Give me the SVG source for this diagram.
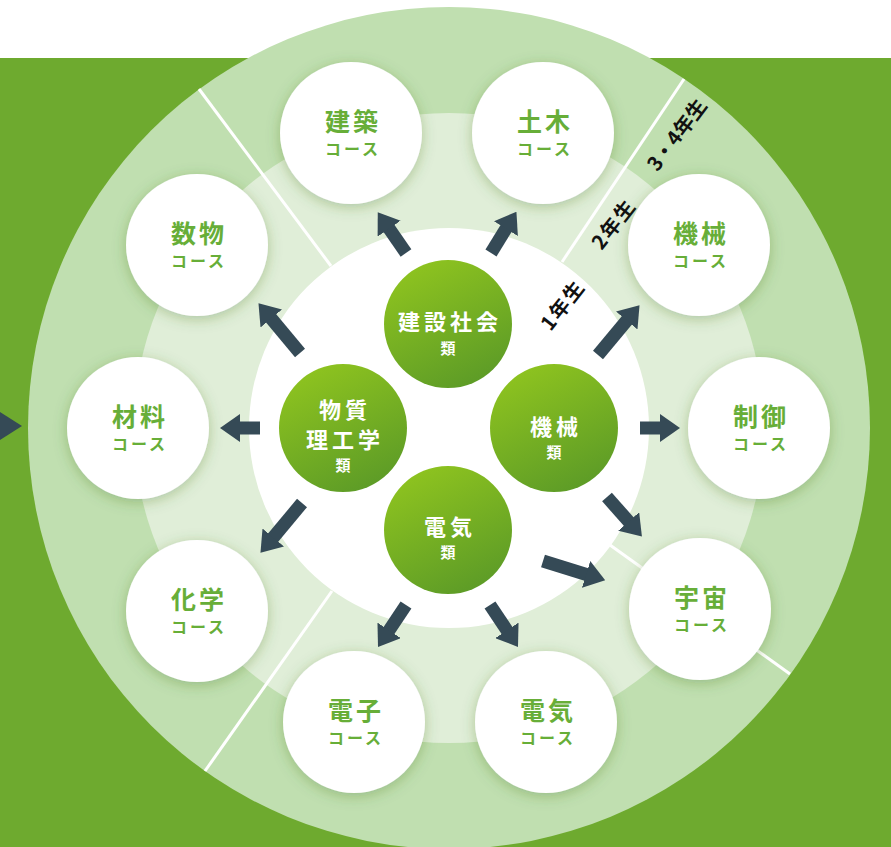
<svg xmlns="http://www.w3.org/2000/svg" width="891" height="847" viewBox="0 0 891 847">
<defs>
<style>
.ct{font-family:"Noto Sans CJK JP","Noto Sans",sans-serif;font-weight:700;fill:#67ae38;text-anchor:middle}
.t1{font-size:25px;letter-spacing:3px}
.t2{font-size:16px;letter-spacing:3px}
.wt{font-family:"Noto Sans CJK JP","Noto Sans",sans-serif;font-weight:700;fill:#ffffff;text-anchor:middle}
.w1{font-size:22px;letter-spacing:4px}
.w2{font-size:15px}
.yr{font-family:"Noto Sans CJK JP","Noto Sans",sans-serif;font-weight:700;fill:#111;font-size:20px;letter-spacing:2px;text-anchor:middle}
.arr{stroke:#354a56;stroke-width:13;fill:none;marker-end:url(#ah)}
.div{stroke:#ffffff;stroke-width:3}
.course{fill:#ffffff;filter:url(#sh)}
.cat{fill:url(#gg)}
</style>
<marker id="ah" viewBox="0 0 20 28" refX="2" refY="14" markerWidth="20" markerHeight="28" markerUnits="userSpaceOnUse" orient="auto">
<path d="M0,0 L20,14 L0,28 Z" fill="#354a56"/>
</marker>
<linearGradient id="gg" x1="0.25" y1="0" x2="0.75" y2="1">
<stop offset="0" stop-color="#8fc41f"/>
<stop offset="1" stop-color="#5b9a27"/>
</linearGradient>
<filter id="sh" x="-30%" y="-30%" width="160%" height="160%">
<feDropShadow dx="0" dy="3" stdDeviation="7" flood-color="#3f6e22" flood-opacity="0.32"/>
</filter>
</defs>
<rect x="0" y="0" width="891" height="847" fill="#ffffff"/>
<rect x="0" y="58" width="891" height="789" fill="#6eaa2f"/>
<polygon points="0,412 22,426 0,440" fill="#354a56"/>
<g id="rings">
<circle cx="449" cy="428" r="421" fill="#c0dfb0"/>
<circle cx="449" cy="428" r="315" fill="#e0eed8"/>
<circle cx="449" cy="428" r="200" fill="#ffffff"/>
</g>
<g id="dividers">
<line class="div" x1="331" y1="266" x2="199" y2="89"/>
<line class="div" x1="562" y1="262" x2="684" y2="79"/>
<line class="div" x1="332" y1="591" x2="205" y2="771"/>
<line class="div" x1="610" y1="545" x2="790" y2="674"/>
</g>
<g id="years">
<text class="yr" transform="translate(563,305) rotate(-52)" y="7">1年生</text>
<text class="yr" transform="translate(614,224) rotate(-52)" y="7">2年生</text>
<text class="yr" transform="translate(677,135) rotate(-53)" y="7" style="letter-spacing:0">3・4年生</text>
</g>
<g id="connectors">
<line class="arr" x1="406" y1="253" x2="388" y2="227"/>
<line class="arr" x1="491" y1="253" x2="507" y2="227"/>
<line class="arr" x1="300" y1="353" x2="270" y2="317"/>
<line class="arr" x1="260" y1="428" x2="238" y2="428"/>
<line class="arr" x1="302" y1="503" x2="272" y2="539"/>
<line class="arr" x1="598" y1="355" x2="628" y2="319"/>
<line class="arr" x1="640" y1="428" x2="662" y2="428"/>
<line class="arr" x1="607" y1="497" x2="630" y2="523"/>
<line class="arr" x1="543" y1="561" x2="588" y2="575"/>
<line class="arr" x1="406" y1="605" x2="388" y2="632"/>
<line class="arr" x1="490" y1="605" x2="508" y2="632"/>
</g>
<g id="cat-kensetsu">
<circle class="cat" cx="448" cy="324" r="64"/>
<text class="wt w1" x="450" y="330">建設社会</text>
<text class="wt w2" x="448" y="354">類</text>
</g>
<g id="cat-busshitsu">
<circle class="cat" cx="343" cy="428" r="64"/>
<text class="wt w1" x="345" y="418">物質</text>
<text class="wt w1" x="345" y="448">理工学</text>
<text class="wt w2" x="343" y="471">類</text>
</g>
<g id="cat-kikai">
<circle class="cat" cx="554" cy="428" r="64"/>
<text class="wt w1" x="556" y="435">機械</text>
<text class="wt w2" x="554" y="458">類</text>
</g>
<g id="cat-denki">
<circle class="cat" cx="448" cy="530" r="64"/>
<text class="wt w1" x="450" y="535">電気</text>
<text class="wt w2" x="448" y="558">類</text>
</g>
<g id="course-kenchiku">
<circle class="course" cx="351" cy="133" r="71"/>
<text class="ct t1" x="353" y="131">建築</text>
<text class="ct t2" x="353" y="155">コース</text>
</g>
<g id="course-doboku">
<circle class="course" cx="543" cy="133" r="71"/>
<text class="ct t1" x="545" y="131">土木</text>
<text class="ct t2" x="545" y="155">コース</text>
</g>
<g id="course-suubutsu">
<circle class="course" cx="197" cy="245" r="71"/>
<text class="ct t1" x="199" y="243">数物</text>
<text class="ct t2" x="199" y="267">コース</text>
</g>
<g id="course-kikai">
<circle class="course" cx="699" cy="245" r="71"/>
<text class="ct t1" x="701" y="243">機械</text>
<text class="ct t2" x="701" y="267">コース</text>
</g>
<g id="course-zairyou">
<circle class="course" cx="138" cy="428" r="71"/>
<text class="ct t1" x="140" y="426">材料</text>
<text class="ct t2" x="140" y="450">コース</text>
</g>
<g id="course-seigyo">
<circle class="course" cx="759" cy="428" r="71"/>
<text class="ct t1" x="761" y="426">制御</text>
<text class="ct t2" x="761" y="450">コース</text>
</g>
<g id="course-kagaku">
<circle class="course" cx="197" cy="611" r="71"/>
<text class="ct t1" x="199" y="609">化学</text>
<text class="ct t2" x="199" y="633">コース</text>
</g>
<g id="course-uchuu">
<circle class="course" cx="700" cy="609" r="71"/>
<text class="ct t1" x="702" y="607">宇宙</text>
<text class="ct t2" x="702" y="631">コース</text>
</g>
<g id="course-denshi">
<circle class="course" cx="354" cy="722" r="71"/>
<text class="ct t1" x="356" y="720">電子</text>
<text class="ct t2" x="356" y="744">コース</text>
</g>
<g id="course-denki">
<circle class="course" cx="546" cy="722" r="71"/>
<text class="ct t1" x="548" y="720">電気</text>
<text class="ct t2" x="548" y="744">コース</text>
</g>
</svg>
